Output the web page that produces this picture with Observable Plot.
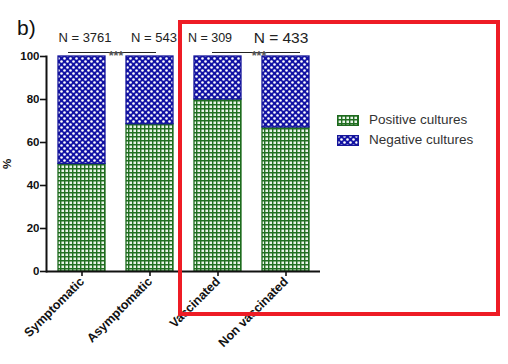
<!DOCTYPE html>
<html>
<head>
<meta charset="utf-8">
<script src="https://cdn.jsdelivr.net/npm/d3@7"></script>
<script src="https://cdn.jsdelivr.net/npm/@observablehq/plot@0.6"></script>
<style>
  html, body { margin: 0; padding: 0; background: #fff; }
  #wrap { position: relative; width: 508px; height: 364px; overflow: hidden; font-family: "Liberation Sans", Arial, sans-serif; }
  #panel { position: absolute; left: 17px; top: 16px; font-size: 21px; color: #111; }
  #box { position: absolute; left: 178px; top: 20px; width: 314px; height: 288px; border: 4px solid #ee1c25; pointer-events: none; }
  #legend { position: absolute; left: 337px; top: 110px; font-size: 13.5px; color: #333; line-height: 20px; }
  #legend div { display: flex; align-items: center; }
  #legend svg { margin-right: 10px; }
</style>
</head>
<body>
<div id="wrap"></div>
<script>
const categories = ["Symptomatic", "Asymptomatic", "Vaccinated", "Non vaccinated"];
const seriesNames = ["Positive cultures", "Negative cultures"];
const positiveValues = [50, 68.5, 80, 67];
const negativeValues = [50, 31.5, 20, 33];
const nLabels = ["N = 3761", "N = 543", "N = 309", "N = 433"];
const yTicks = [0, 20, 40, 60, 80, 100];
const comparisons = [
  {from: "Symptomatic", to: "Asymptomatic", label: "***"},
  {from: "Vaccinated", to: "Non vaccinated", label: "***"}
];

const table = [];
categories.forEach((c, i) => {
  table.push({cat: c, series: seriesNames[0], value: positiveValues[i]});
  table.push({cat: c, series: seriesNames[1], value: negativeValues[i]});
});
const nTable = categories.map((c, i) => ({cat: c, label: nLabels[i]}));

const greenStroke = "#1d6a1d";
const blueStroke = "#16169a";

const defs = `
<pattern id="gp" width="4" height="4" patternUnits="userSpaceOnUse">
  <rect width="4" height="4" fill="#e9f4e9"/>
  <path d="M0 0.7H4M0.7 0V4" stroke="#216f21" stroke-width="1.45"/>
</pattern>
<pattern id="bp" width="6" height="6" patternUnits="userSpaceOnUse">
  <rect width="6" height="6" fill="#1212a4"/>
  <circle cx="1.5" cy="1.5" r="1.3" fill="#fff"/>
  <circle cx="4.5" cy="4.5" r="1.3" fill="#fff"/>
</pattern>`;

const chart = Plot.plot({
  width: 508,
  height: 364,
  marginLeft: 46,
  marginRight: 188,
  marginTop: 56,
  marginBottom: 93,
  style: {fontFamily: "Liberation Sans, Arial, sans-serif", background: "transparent", color: "#111", overflow: "visible"},
  x: {domain: categories, paddingInner: 0.314, paddingOuter: 0.157, label: null},
  y: {domain: [0, 100], label: null},
  color: {domain: seriesNames, range: ["url(#gp)", "url(#bp)"]},
  marks: [
    Plot.barY(table, {
      x: "cat", y: "value", z: "series", fill: "series",
      stroke: d => d.series === seriesNames[0] ? greenStroke : blueStroke,
      strokeWidth: 1.3
    }),
    Plot.axisY({ticks: yTicks, tickSize: 6, tickPadding: 1, fontSize: 11.5, fontWeight: "bold", strokeWidth: 1.6,
      label: "%", labelArrow: false, labelAnchor: "center", labelOffset: 44}),
    Plot.axisX({tickSize: 5, tickPadding: 3, tickRotate: -45, fontSize: 12.5, fontWeight: "bold", strokeWidth: 1.6}),
    Plot.ruleY([0], {stroke: "#111", strokeWidth: 2}),
    Plot.frame({anchor: "left", stroke: "#111", strokeWidth: 2}),
    Plot.text(nTable.slice(0, 1), {x: "cat", y: 100, text: "label", dy: -19, dx: 3, fontSize: 13, fill: "#222"}),
    Plot.text(nTable.slice(1, 2), {x: "cat", y: 100, text: "label", dy: -19, dx: 4, fontSize: 13, fill: "#222"}),
    Plot.text(nTable.slice(2, 3), {x: "cat", y: 100, text: "label", dy: -19, dx: -8, fontSize: 12.5, fill: "#222"}),
    Plot.text(nTable.slice(3, 4), {x: "cat", y: 100, text: "label", dy: -18, dx: -5, fontSize: 15.5, fill: "#222"}),
    Plot.ruleY(comparisons.slice(0, 1), {x1: "from", x2: "to", y: 100, dy: -4, dx: -4, insetLeft: 14, insetRight: 13, stroke: "#222", strokeWidth: 1}),
    Plot.ruleY(comparisons.slice(1, 2), {x1: "from", x2: "to", y: 100, dy: -4, dx: 4, insetLeft: 14, insetRight: 13, stroke: "#222", strokeWidth: 1}),
    Plot.text(comparisons.slice(0, 1), {x: "from", y: 100, text: "label", dx: 34, dy: -1, fontSize: 12.5, fill: "#555", fontWeight: "bold"}),
    Plot.text(comparisons.slice(1, 2), {x: "from", y: 100, text: "label", dx: 41, dy: -1, fontSize: 12.5, fill: "#555", fontWeight: "bold"})
  ]
});

const d = document.createElementNS("http://www.w3.org/2000/svg", "defs");
d.innerHTML = defs;
chart.insertBefore(d, chart.firstChild);

const wrap = document.getElementById("wrap");
wrap.appendChild(chart);

const panel = document.createElement("div");
panel.id = "panel";
panel.textContent = "b)";
wrap.appendChild(panel);

const legend = document.createElement("div");
legend.id = "legend";
seriesNames.forEach((s, i) => {
  const row = document.createElement("div");
  row.innerHTML = `<svg width="22" height="11"><rect x="0.7" y="0.7" width="20.6" height="9.6" fill="url(#${i === 0 ? "gp" : "bp"})" stroke="${i === 0 ? greenStroke : blueStroke}" stroke-width="1.4"/></svg><span>${s}</span>`;
  legend.appendChild(row);
});
wrap.appendChild(legend);

const box = document.createElement("div");
box.id = "box";
wrap.appendChild(box);
</script>
</body>
</html>
